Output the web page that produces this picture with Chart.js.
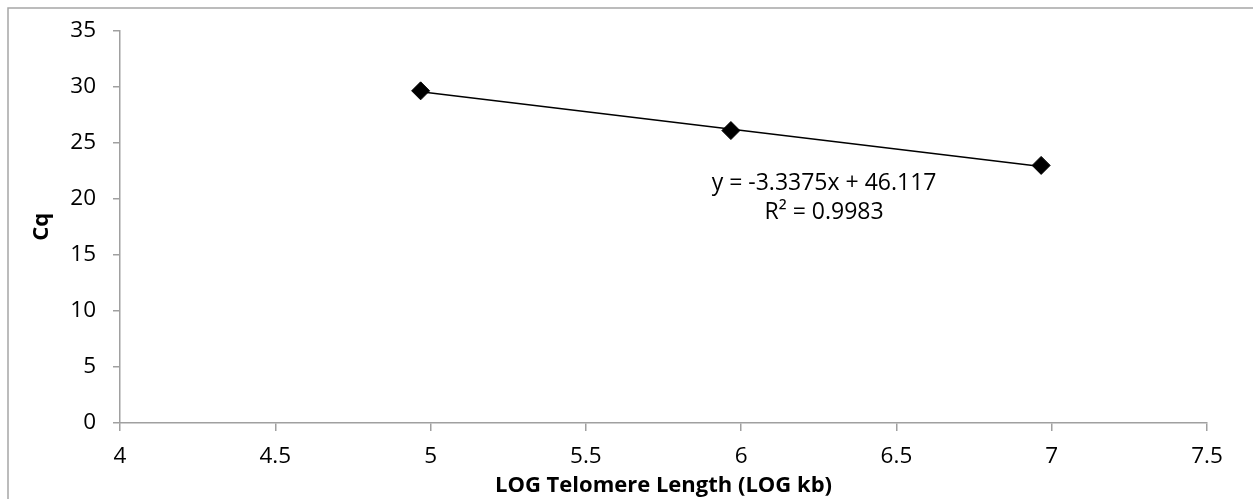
<!DOCTYPE html>
<html>
<head>
<meta charset="utf-8">
<script src="https://cdn.jsdelivr.net/npm/chart.js@4.4.1/dist/chart.umd.min.js"></script>
<style>
  html, body { margin: 0; padding: 0; background: #ffffff; }
  #wrap { width: 1253px; height: 499px; position: relative; }
</style>
</head>
<body>
<div id="wrap"><canvas id="c" width="1253" height="499"></canvas></div>
<script>
// ---- data ----
const logLength = [4.968, 5.967, 6.966];          // LOG Telomere Length (LOG kb)
const cqValues  = [29.62, 26.08, 22.97];          // Cq
const trendX    = [4.968, 6.966];                  // trendline span
const trendY    = [29.54, 22.87];                  // trendline values
const xTickValues = [4, 4.5, 5, 5.5, 6, 6.5, 7, 7.5];
const xTickLabels = ['4', '4.5', '5', '5.5', '6', '6.5', '7', '7.5'];
const yTickLabels = ['0', '5', '10', '15', '20', '25', '30', '35'];
const equationLines = ['y = -3.3375x + 46.117', 'R\u00B2 = 0.9983'];
const equationAnchor = [6.267, 21.4];              // data-space anchor of label
const xTitle = 'LOG Telomere Length (LOG kb)';
const yTitle = 'Cq';

const FONT = "'Open Sans', 'Noto Sans', sans-serif";
const AXIS = '#a0a0a0';

const framePlugin = {
  id: 'frame',
  beforeDraw(chart) {
    const ctx = chart.ctx;
    ctx.save();
    ctx.fillStyle = '#ffffff';
    ctx.fillRect(0, 0, chart.width, chart.height);
    ctx.strokeStyle = '#a6a6a6';
    ctx.lineWidth = 1.5;
    ctx.strokeRect(8, 8, chart.width + 20, chart.height + 20);
    ctx.restore();
  }
};

const equationPlugin = {
  id: 'equation',
  afterDatasetsDraw(chart) {
    const ctx = chart.ctx;
    const xs = chart.scales.x, ys = chart.scales.y;
    const px = xs.getPixelForValue(equationAnchor[0]);
    const py = ys.getPixelForValue(equationAnchor[1]);
    ctx.save();
    ctx.fillStyle = '#000000';
    ctx.font = "23px " + FONT;
    ctx.textAlign = 'center';
    ctx.textBaseline = 'middle';
    equationLines.forEach((t, i) => ctx.fillText(t, px, py + i * 29));
    ctx.restore();
  }
};

new Chart(document.getElementById('c'), {
  type: 'scatter',
  data: {
    datasets: [
      {
        label: 'Cq',
        data: logLength.map((x, i) => ({ x: x, y: cqValues[i] })),
        pointStyle: 'rectRot',
        pointRadius: 9,
        pointHoverRadius: 9,
        backgroundColor: '#000000',
        borderColor: '#000000',
        borderWidth: 1,
        showLine: false,
        order: 1
      },
      {
        label: 'Linear trend',
        data: trendX.map((x, i) => ({ x: x, y: trendY[i] })),
        showLine: true,
        pointRadius: 0,
        borderColor: '#000000',
        borderWidth: 1.5,
        fill: false,
        order: 2
      }
    ]
  },
  options: {
    responsive: false,
    animation: false,
    devicePixelRatio: 1,
    layout: { padding: { top: 29, right: 46, left: 0, bottom: 0 } },
    plugins: {
      legend: { display: false },
      tooltip: { enabled: false }
    },
    scales: {
      x: {
        type: 'linear',
        min: 4,
        max: 7.5,
        afterFit: s => { s.height = 76; },
        afterBuildTicks: s => { s.ticks = xTickValues.map(v => ({ value: v })); },
        ticks: {
          color: '#000000',
          font: { family: FONT, size: 22.5 },
          padding: 12,
          maxRotation: 0,
          autoSkip: false,
          callback: (v) => { const i = xTickValues.indexOf(v); return i >= 0 ? xTickLabels[i] : ''; }
        },
        grid: { drawOnChartArea: false, drawTicks: true, tickLength: 8, color: AXIS, lineWidth: 1.5 },
        border: { display: true, color: AXIS, width: 1.5 },
        title: {
          display: true,
          text: xTitle,
          color: '#000000',
          font: { family: FONT, size: 22, weight: 'bold' },
          padding: { top: 0, bottom: 0 }
        }
      },
      y: {
        type: 'linear',
        min: 0,
        max: 35,
        afterFit: s => { s.width = 120; },
        ticks: {
          stepSize: 5,
          color: '#000000',
          font: { family: FONT, size: 22.5 },
          padding: 17,
          callback: (v) => yTickLabels[Math.round(v / 5)]
        },
        grid: { drawOnChartArea: false, drawTicks: true, tickLength: 7, color: AXIS, lineWidth: 1.5 },
        border: { display: true, color: AXIS, width: 1.5 },
        title: {
          display: true,
          text: yTitle,
          color: '#000000',
          font: { family: FONT, size: 22, weight: 'bold' },
          padding: { top: 29, bottom: 0 }
        }
      }
    }
  },
  plugins: [framePlugin, equationPlugin]
});
</script>
</body>
</html>
